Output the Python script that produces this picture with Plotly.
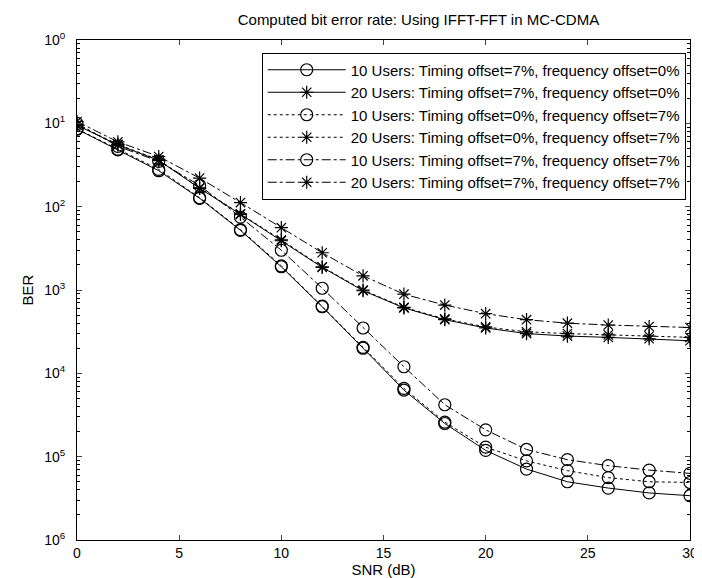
import plotly.graph_objects as go

snr = [0, 2, 4, 6, 8, 10, 12, 14, 16, 18, 20, 22, 24, 26, 28, 30]

u10_t7_f0 = [0.085, 0.048, 0.027, 0.0126, 0.0052, 0.0019, 6.3e-4, 2.0e-4, 6.3e-5, 2.5e-5,
             1.19e-5, 7.1e-6, 5.0e-6, 4.2e-6, 3.67e-6, 3.4e-6]
u20_t7_f0 = [0.095, 0.055, 0.036, 0.0166, 0.0081, 0.0039, 0.00187, 9.8e-4, 6.1e-4, 4.4e-4,
             3.5e-4, 3.0e-4, 2.8e-4, 2.7e-4, 2.6e-4, 2.46e-4]
u10_t0_f7 = [0.086, 0.049, 0.028, 0.0128, 0.0053, 0.00195, 6.4e-4, 2.05e-4, 6.6e-5, 2.6e-5,
             1.3e-5, 8.9e-6, 6.8e-6, 5.6e-6, 5.0e-6, 4.9e-6]
u20_t0_f7 = [0.096, 0.056, 0.0365, 0.0168, 0.0082, 0.004, 0.0019, 1.0e-3, 6.2e-4, 4.5e-4,
             3.6e-4, 3.15e-4, 3.0e-4, 2.9e-4, 2.8e-4, 2.7e-4]
u10_t7_f7 = [0.1, 0.053, 0.035, 0.018, 0.0075, 0.0030, 1.05e-3, 3.5e-4, 1.2e-4, 4.2e-5,
             2.1e-5, 1.22e-5, 9.2e-6, 7.8e-6, 6.9e-6, 6.3e-6]
u20_t7_f7 = [0.105, 0.06, 0.040, 0.022, 0.0112, 0.0056, 0.0028, 1.48e-3, 8.9e-4, 6.6e-4,
             5.2e-4, 4.4e-4, 4.0e-4, 3.8e-4, 3.65e-4, 3.55e-4]

names = [
    "10 Users: Timing offset=7%, frequency offset=0%",
    "20 Users: Timing offset=7%, frequency offset=0%",
    "10 Users: Timing offset=0%, frequency offset=7%",
    "20 Users: Timing offset=0%, frequency offset=7%",
    "10 Users: Timing offset=7%, frequency offset=7%",
    "20 Users: Timing offset=7%, frequency offset=7%",
]
series = [u10_t7_f0, u20_t7_f0, u10_t0_f7, u20_t0_f7, u10_t7_f7, u20_t7_f7]
dashes = ["solid", "solid", "dot", "dot", "dashdot", "dashdot"]
symbols = ["circle-open", "asterisk-open"] * 3
sizes = [12, 11] * 3

ytick_vals = [1, 1e-1, 1e-2, 1e-3, 1e-4, 1e-5, 1e-6]
ytick_text = ["10<sup>0</sup>", "10<sup>1</sup>", "10<sup>2</sup>", "10<sup>3</sup>",
              "10<sup>4</sup>", "10<sup>5</sup>", "10<sup>6</sup>"]
xtick_vals = [0, 5, 10, 15, 20, 25, 30]

minor_vals = [k * 10 ** e for e in range(-6, 0) for k in range(2, 10)]

fig = go.Figure()
for name, ys, d, sym, sz in zip(names, series, dashes, symbols, sizes):
    fig.add_trace(go.Scatter(
        x=snr, y=ys, name=name, mode="lines+markers",
        line=dict(color="black", width=1, dash=d),
        marker=dict(symbol=sym, size=sz, color="black",
                    line=dict(color="black", width=1.2)),
    ))

font = "Liberation Sans, Arial, sans-serif"
fig.update_layout(
    width=702, height=578,
    margin=dict(l=69, r=12, t=32, b=46),
    paper_bgcolor="white", plot_bgcolor="white",
    font=dict(family=font, size=14, color="black"),
    title=dict(text="Computed bit error rate: Using IFFT-FFT in MC-CDMA",
               x=0.557, xref="paper", xanchor="center", y=0.98, yanchor="middle",
               yref="container", font=dict(size=15)),
    legend=dict(x=0.993, xanchor="right", y=0.975, yanchor="top",
                bordercolor="black", borderwidth=1, bgcolor="white",
                font=dict(size=15), itemwidth=78, tracegroupgap=0),
    showlegend=True,
)
fig.update_xaxes(
    range=[0, 30], tickvals=xtick_vals, ticks="inside", ticklen=5,
    ticklabelstandoff=0,
    showline=True, linecolor="black", linewidth=1, mirror="allticks",
    showgrid=False, zeroline=False,
    title=dict(text="SNR (dB)", font=dict(size=15), standoff=0),
)
fig.update_yaxes(
    type="log", range=[-6, 0], tickvals=ytick_vals, ticktext=ytick_text,
    ticks="inside", ticklen=5, ticklabelstandoff=8,
    showline=True, linecolor="black", linewidth=1, mirror="allticks",
    showgrid=False, zeroline=False,
    minor=dict(tickvals=minor_vals, ticks="inside", ticklen=3, showgrid=False,
               tickcolor="black"),
    title=dict(text="BER", font=dict(size=15), standoff=6),
)

fig.write_html("out.html")
